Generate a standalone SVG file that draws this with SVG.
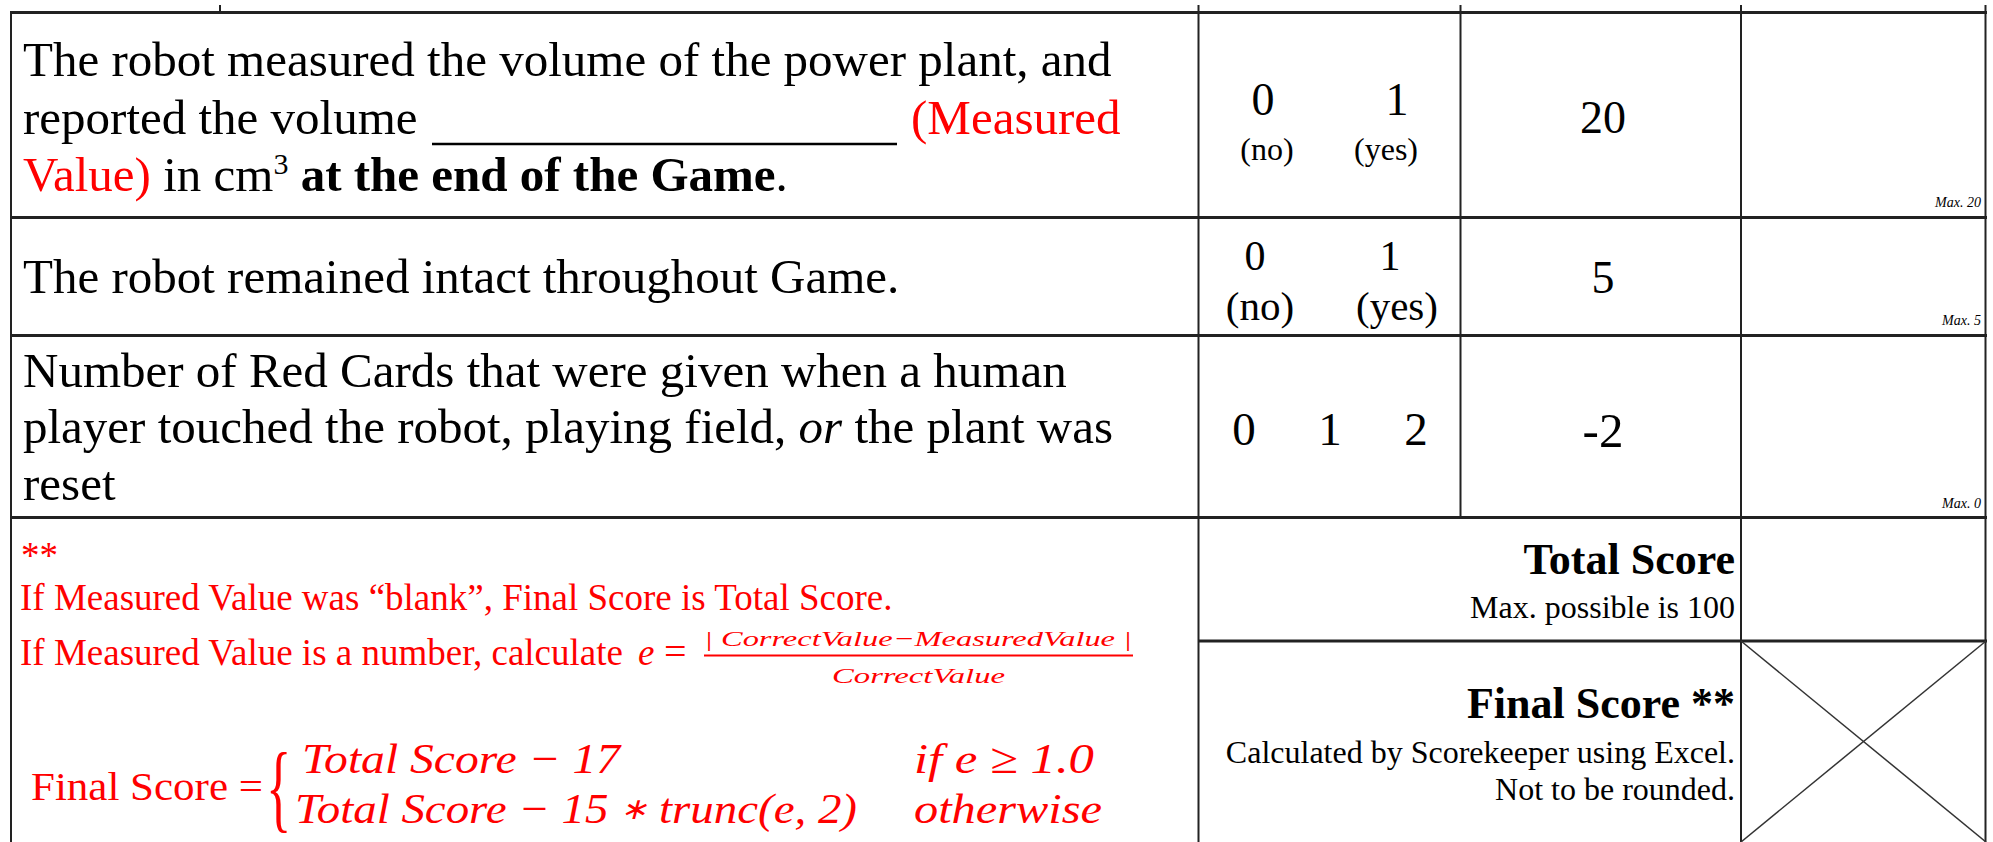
<svg xmlns="http://www.w3.org/2000/svg" width="1993" height="842" viewBox="0 0 1993 842">
<style>
.t{font-family:"Liberation Serif","Times New Roman",serif;fill:#000}
.r{fill:#FF0000}
.b{font-weight:bold}
.i{font-style:italic}
.m{font-family:"Liberation Serif","Times New Roman",serif;font-style:italic;fill:#FF0000}
.c{text-anchor:middle}
.e{text-anchor:end}
.hl{stroke:#222;stroke-width:3;fill:none}
.vl{stroke:#222;stroke-width:2;fill:none}
.mx{font-family:"Liberation Serif","Times New Roman",serif;font-style:italic;font-size:14px;text-anchor:end;fill:#000}
</style>
<rect x="0" y="0" width="1993" height="842" fill="#fff"/>
<g id="grid">
<line class="hl" x1="10" y1="12.5" x2="1987" y2="12.5"/>
<line class="hl" x1="10" y1="217.5" x2="1987" y2="217.5"/>
<line class="hl" x1="10" y1="335.5" x2="1987" y2="335.5"/>
<line class="hl" x1="10" y1="517.5" x2="1987" y2="517.5"/>
<line class="hl" x1="1198" y1="641" x2="1987" y2="641"/>
<line class="vl" x1="11" y1="12" x2="11" y2="842"/>
<line class="vl" x1="220" y1="5" x2="220" y2="12"/>
<line class="vl" x1="1198.5" y1="5" x2="1198.5" y2="842"/>
<line class="vl" x1="1460.5" y1="5" x2="1460.5" y2="517"/>
<line class="vl" x1="1741" y1="5" x2="1741" y2="842"/>
<line class="vl" x1="1985.5" y1="5" x2="1985.5" y2="842"/>
</g>
<g id="row-volume">
<text class="t" x="23" y="76" font-size="49">The robot measured the volume of the power plant, and</text>
<text class="t" x="23" y="134" font-size="49">reported the volume</text>
<line x1="432" y1="144" x2="897" y2="144" stroke="#000" stroke-width="2.5"/>
<text class="t r" x="911" y="134" font-size="49">(Measured</text>
<text class="t" x="23" y="191" font-size="49"><tspan class="r">Value)</tspan> in cm<tspan font-size="30" dy="-17">3</tspan><tspan class="b" dy="17"> at the end of the Game</tspan>.</text>
<text class="t c" x="1263" y="115" font-size="46">0</text>
<text class="t c" x="1397" y="115" font-size="46">1</text>
<text class="t c" x="1267" y="160" font-size="32">(no)</text>
<text class="t c" x="1386" y="160" font-size="32">(yes)</text>
<text class="t c" x="1603" y="133" font-size="46">20</text>
<text class="mx" x="1981" y="207">Max. 20</text>
</g>
<g id="row-intact">
<text class="t" x="23" y="293" font-size="49">The robot remained intact throughout Game.</text>
<text class="t c" x="1255" y="270" font-size="42">0</text>
<text class="t c" x="1390" y="270" font-size="42">1</text>
<text class="t c" x="1260" y="320" font-size="41">(no)</text>
<text class="t c" x="1397" y="320" font-size="41">(yes)</text>
<text class="t c" x="1603" y="293" font-size="46">5</text>
<text class="mx" x="1981" y="325">Max. 5</text>
</g>
<g id="row-redcards">
<text class="t" x="23" y="387" font-size="49">Number of Red Cards that were given when a human</text>
<text class="t" x="23" y="443" font-size="49">player touched the robot, playing field, <tspan class="i">or</tspan> the plant was</text>
<text class="t" x="23" y="500" font-size="49">reset</text>
<text class="t c" x="1244" y="445" font-size="47">0</text>
<text class="t c" x="1330" y="445" font-size="47">1</text>
<text class="t c" x="1416" y="445" font-size="47">2</text>
<text class="t c" x="1603" y="447" font-size="49">-2</text>
<text class="mx" x="1981" y="508">Max. 0</text>
</g>
<g id="notes">
<text class="t r" x="21" y="568" font-size="37">**</text>
<text class="t r" x="20" y="610" font-size="37">If Measured Value was “blank”, Final Score is Total Score.</text>
<text class="t r" x="20" y="665" font-size="37">If Measured Value is a number, calculate </text>
<text class="m" x="638" y="665" font-size="37">e</text>
<text class="t r" x="664" y="665" font-size="40">=</text>
<text class="m" x="704" y="646" font-size="22" textLength="428" lengthAdjust="spacingAndGlyphs">| CorrectValue−MeasuredValue |</text>
<line x1="704" y1="655.5" x2="1133" y2="655.5" stroke="#FF0000" stroke-width="2"/>
<text class="m" x="832" y="683" font-size="22" textLength="173" lengthAdjust="spacingAndGlyphs">CorrectValue</text>
<text class="t r" x="31" y="800" font-size="41" textLength="232" lengthAdjust="spacingAndGlyphs">Final Score =</text>
<text class="t r" transform="translate(266,820) scale(1.1,2.05)" font-size="48" font-weight="300">{</text>
<text class="m" x="302" y="773" font-size="43" textLength="318" lengthAdjust="spacingAndGlyphs">Total Score − 17</text>
<text class="m" x="295" y="823" font-size="43" textLength="562" lengthAdjust="spacingAndGlyphs">Total Score − 15 <tspan font-size="30" dy="-4">∗</tspan><tspan dy="4"> trunc(e, 2)</tspan></text>
<text class="m" x="914" y="773" font-size="43" textLength="180" lengthAdjust="spacingAndGlyphs">if e ≥ 1.0</text>
<text class="m" x="914" y="823" font-size="43" textLength="188" lengthAdjust="spacingAndGlyphs">otherwise</text>
</g>
<g id="total-score">
<text class="t b e" x="1735" y="574" font-size="44">Total Score</text>
<text class="t e" x="1735" y="618" font-size="32">Max. possible is 100</text>
</g>
<g id="final-score">
<text class="t b e" x="1735" y="718" font-size="44">Final Score **</text>
<text class="t e" x="1735" y="763" font-size="32">Calculated by Scorekeeper using Excel.</text>
<text class="t e" x="1735" y="800" font-size="32">Not to be rounded.</text>
<line x1="1741" y1="641" x2="1986" y2="842" stroke="#333" stroke-width="1.5"/>
<line x1="1986" y1="641" x2="1741" y2="842" stroke="#333" stroke-width="1.5"/>
</g>
</svg>
